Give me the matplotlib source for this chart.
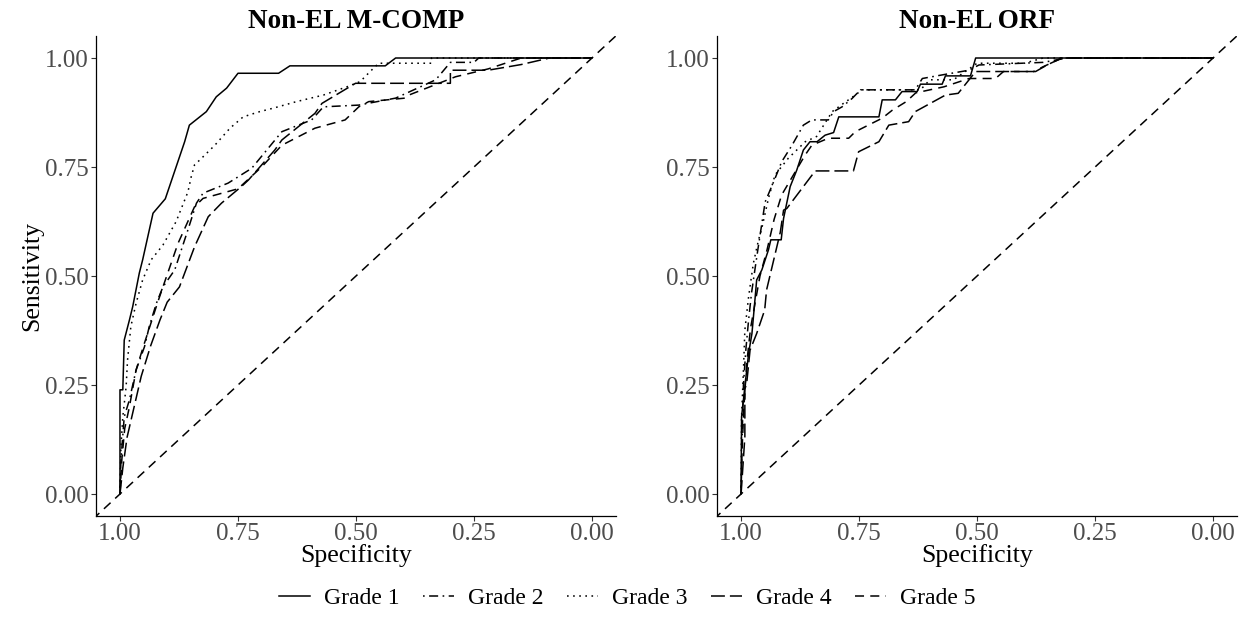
import numpy as np
import matplotlib
matplotlib.use("Agg")
import matplotlib.pyplot as plt
from matplotlib.lines import Line2D

plt.rcParams['font.family'] = ['Liberation Serif', 'DejaVu Serif']
plt.rcParams['lines.scale_dashes'] = False

grades = ['Grade 1', 'Grade 2', 'Grade 3', 'Grade 4', 'Grade 5']
panel_titles = ['Non-EL M-COMP', 'Non-EL ORF']
tick_values = [1.00, 0.75, 0.50, 0.25, 0.00]
tick_labels = ['1.00', '0.75', '0.50', '0.25', '0.00']

# ---- Non-EL M-COMP (specificity, sensitivity) ----
mcomp_spec_g1 = [1.000, 1.000, 0.994, 0.991, 0.980, 0.973, 0.959, 0.952, 0.930, 0.904, 0.863,
                 0.853, 0.817, 0.796, 0.774, 0.750, 0.664, 0.640, 0.438, 0.416, 0.000]
mcomp_sens_g1 = [0.000, 0.239, 0.239, 0.353, 0.399, 0.430, 0.507, 0.537, 0.644, 0.677, 0.808,
                 0.846, 0.877, 0.911, 0.931, 0.965, 0.965, 0.982, 0.982, 1.000, 1.000]

mcomp_spec_g2 = [1.000, 0.998, 0.991, 0.980, 0.966, 0.948, 0.938, 0.923, 0.909, 0.884, 0.856,
                 0.838, 0.824, 0.771, 0.721, 0.657, 0.594, 0.569, 0.494, 0.416, 0.331, 0.300,
                 0.250, 0.240, 0.000]
mcomp_sens_g2 = [0.000, 0.078, 0.177, 0.216, 0.284, 0.338, 0.384, 0.437, 0.475, 0.514, 0.606,
                 0.667, 0.690, 0.713, 0.747, 0.831, 0.858, 0.888, 0.892, 0.908, 0.950, 0.990,
                 0.990, 1.000, 1.000]

mcomp_spec_g3 = [1.000, 0.998, 0.994, 0.987, 0.984, 0.977, 0.966, 0.952, 0.934, 0.909, 0.881,
                 0.856, 0.849, 0.842, 0.831, 0.799, 0.767, 0.739, 0.704, 0.675, 0.626, 0.569,
                 0.519, 0.491, 0.470, 0.452, 0.340, 0.340, 0.000]
mcomp_sens_g3 = [0.000, 0.108, 0.177, 0.246, 0.307, 0.384, 0.437, 0.491, 0.537, 0.571, 0.625,
                 0.693, 0.728, 0.755, 0.766, 0.800, 0.839, 0.865, 0.877, 0.885, 0.900, 0.915,
                 0.934, 0.946, 0.969, 0.988, 0.988, 1.000, 1.000]

mcomp_spec_g4 = [1.000, 0.994, 0.985, 0.970, 0.955, 0.935, 0.915, 0.900, 0.874, 0.842, 0.813,
                 0.785, 0.743, 0.728, 0.672, 0.657, 0.587, 0.572, 0.501, 0.300, 0.300, 0.220,
                 0.150, 0.090, 0.000]
mcomp_sens_g4 = [0.000, 0.060, 0.130, 0.200, 0.270, 0.340, 0.400, 0.440, 0.475, 0.567, 0.636,
                 0.667, 0.705, 0.720, 0.789, 0.812, 0.873, 0.896, 0.942, 0.942, 0.972, 0.972,
                 0.985, 1.000, 1.000]

mcomp_spec_g5 = [1.000, 0.996, 0.990, 0.980, 0.966, 0.950, 0.935, 0.920, 0.909, 0.877, 0.842,
                 0.824, 0.750, 0.700, 0.657, 0.587, 0.523, 0.494, 0.473, 0.396, 0.388, 0.289,
                 0.220, 0.150, 0.000]
mcomp_sens_g5 = [0.000, 0.080, 0.150, 0.200, 0.284, 0.340, 0.390, 0.440, 0.475, 0.575, 0.659,
                 0.678, 0.700, 0.750, 0.800, 0.839, 0.858, 0.888, 0.900, 0.908, 0.915, 0.957,
                 0.975, 1.000, 1.000]

# ---- Non-EL ORF ----
orf_spec_g1 = [1.000, 0.999, 0.992, 0.984, 0.977, 0.970, 0.967, 0.956, 0.942, 0.937, 0.915,
               0.910, 0.896, 0.882, 0.868, 0.854, 0.839, 0.822, 0.804, 0.793, 0.708, 0.701,
               0.673, 0.659, 0.627, 0.620, 0.574, 0.567, 0.514, 0.503, 0.000]
orf_sens_g1 = [0.000, 0.177, 0.246, 0.323, 0.368, 0.453, 0.491, 0.514, 0.560, 0.583, 0.583,
               0.632, 0.705, 0.743, 0.789, 0.808, 0.808, 0.823, 0.829, 0.865, 0.865, 0.904,
               0.904, 0.923, 0.923, 0.940, 0.940, 0.959, 0.959, 1.000, 1.000]

orf_spec_g2 = [1.000, 0.998, 0.995, 0.990, 0.984, 0.978, 0.970, 0.963, 0.949, 0.928, 0.914,
               0.892, 0.868, 0.850, 0.815, 0.804, 0.786, 0.765, 0.747, 0.631, 0.616, 0.570,
               0.517, 0.496, 0.360, 0.310, 0.000]
orf_sens_g2 = [0.000, 0.120, 0.250, 0.330, 0.400, 0.460, 0.520, 0.571, 0.670, 0.724, 0.762,
               0.800, 0.846, 0.858, 0.858, 0.877, 0.888, 0.907, 0.927, 0.927, 0.953, 0.962,
               0.972, 0.984, 0.990, 1.000, 1.000]

orf_spec_g3 = [1.000, 0.999, 0.995, 0.992, 0.984, 0.974, 0.963, 0.956, 0.942, 0.928, 0.900,
               0.864, 0.840, 0.807, 0.783, 0.758, 0.744, 0.620, 0.600, 0.550, 0.500, 0.400,
               0.360, 0.000]
orf_sens_g3 = [0.000, 0.177, 0.284, 0.376, 0.453, 0.529, 0.583, 0.610, 0.678, 0.732, 0.770,
               0.808, 0.820, 0.877, 0.896, 0.915, 0.927, 0.927, 0.950, 0.950, 0.988, 0.988,
               1.000, 1.000]

orf_spec_g4 = [1.000, 0.992, 0.992, 0.988, 0.981, 0.967, 0.950, 0.946, 0.917, 0.910, 0.903,
               0.843, 0.762, 0.751, 0.708, 0.687, 0.645, 0.631, 0.567, 0.540, 0.503, 0.376,
               0.350, 0.320, 0.000]
orf_sens_g4 = [0.000, 0.131, 0.240, 0.255, 0.330, 0.368, 0.422, 0.468, 0.600, 0.651, 0.655,
               0.741, 0.741, 0.785, 0.808, 0.846, 0.854, 0.877, 0.915, 0.919, 0.969, 0.969,
               0.985, 1.000, 1.000]

orf_spec_g5 = [1.000, 0.998, 0.994, 0.988, 0.980, 0.970, 0.960, 0.945, 0.930, 0.914, 0.864,
               0.850, 0.815, 0.772, 0.758, 0.701, 0.680, 0.650, 0.630, 0.570, 0.517, 0.461,
               0.444, 0.380, 0.360, 0.320, 0.000]
orf_sens_g5 = [0.000, 0.100, 0.200, 0.300, 0.380, 0.440, 0.500, 0.560, 0.630, 0.686, 0.778,
               0.800, 0.816, 0.816, 0.831, 0.862, 0.880, 0.900, 0.920, 0.934, 0.953, 0.953,
               0.969, 0.969, 0.980, 1.000, 1.000]

panels = [
    [(mcomp_spec_g1, mcomp_sens_g1), (mcomp_spec_g2, mcomp_sens_g2), (mcomp_spec_g3, mcomp_sens_g3),
     (mcomp_spec_g4, mcomp_sens_g4), (mcomp_spec_g5, mcomp_sens_g5)],
    [(orf_spec_g1, orf_sens_g1), (orf_spec_g2, orf_sens_g2), (orf_spec_g3, orf_sens_g3),
     (orf_spec_g4, orf_sens_g4), (orf_spec_g5, orf_sens_g5)],
]

# ggplot-like linetypes: solid, dotdash, dotted, longdash, dashed
line_styles = ['-', (0, (1.2, 3.2, 6.5, 3.2)), (0, (1.2, 3.2)), (0, (10, 3.6)), (0, (6.5, 4.5))]

fig = plt.figure(figsize=(12.55, 6.21), dpi=100)
axes = [fig.add_axes([0.0768, 0.1694, 0.4137, 0.7723]),
        fig.add_axes([0.5717, 0.1694, 0.4137, 0.7723])]

for ax, curves, title in zip(axes, panels, panel_titles):
    for (spec, sens), ls in zip(curves, line_styles):
        ax.plot(spec, sens, color='black', linestyle=ls, linewidth=1.1)
    # chance line
    ax.axline((1, 0), (0, 1), color='black', linestyle=(0, (6.5, 4.5)), linewidth=1.1)
    ax.set_xlim(1.05, -0.05)
    ax.set_ylim(-0.05, 1.05)
    ax.set_xticks(tick_values)
    ax.set_xticklabels(tick_labels)
    ax.set_yticks(tick_values)
    ax.set_yticklabels(tick_labels)
    for side in ['top', 'right']:
        ax.spines[side].set_visible(False)
    for side in ['left', 'bottom']:
        ax.spines[side].set_linewidth(0.9)
    ax.tick_params(length=3.5, width=0.8, color='#333333', labelsize=18,
                   labelcolor='#4D4D4D', pad=2)
    ax.set_title(title, fontsize=19.5, fontweight='bold', pad=6)
    ax.set_xlabel('Specificity', fontsize=18.5, labelpad=-1)

axes[0].set_ylabel('Sensitivity', fontsize=18.5, labelpad=1)

handles = [Line2D([], [], color='black', linestyle=ls, linewidth=1.1) for ls in line_styles]
fig.legend(handles, grades, loc='center', bbox_to_anchor=(0.5, 0.037), ncol=5,
           frameon=False, fontsize=17, handlelength=1.3, handletextpad=0.6,
           columnspacing=1.0)

fig.savefig('out.png', dpi=100)
